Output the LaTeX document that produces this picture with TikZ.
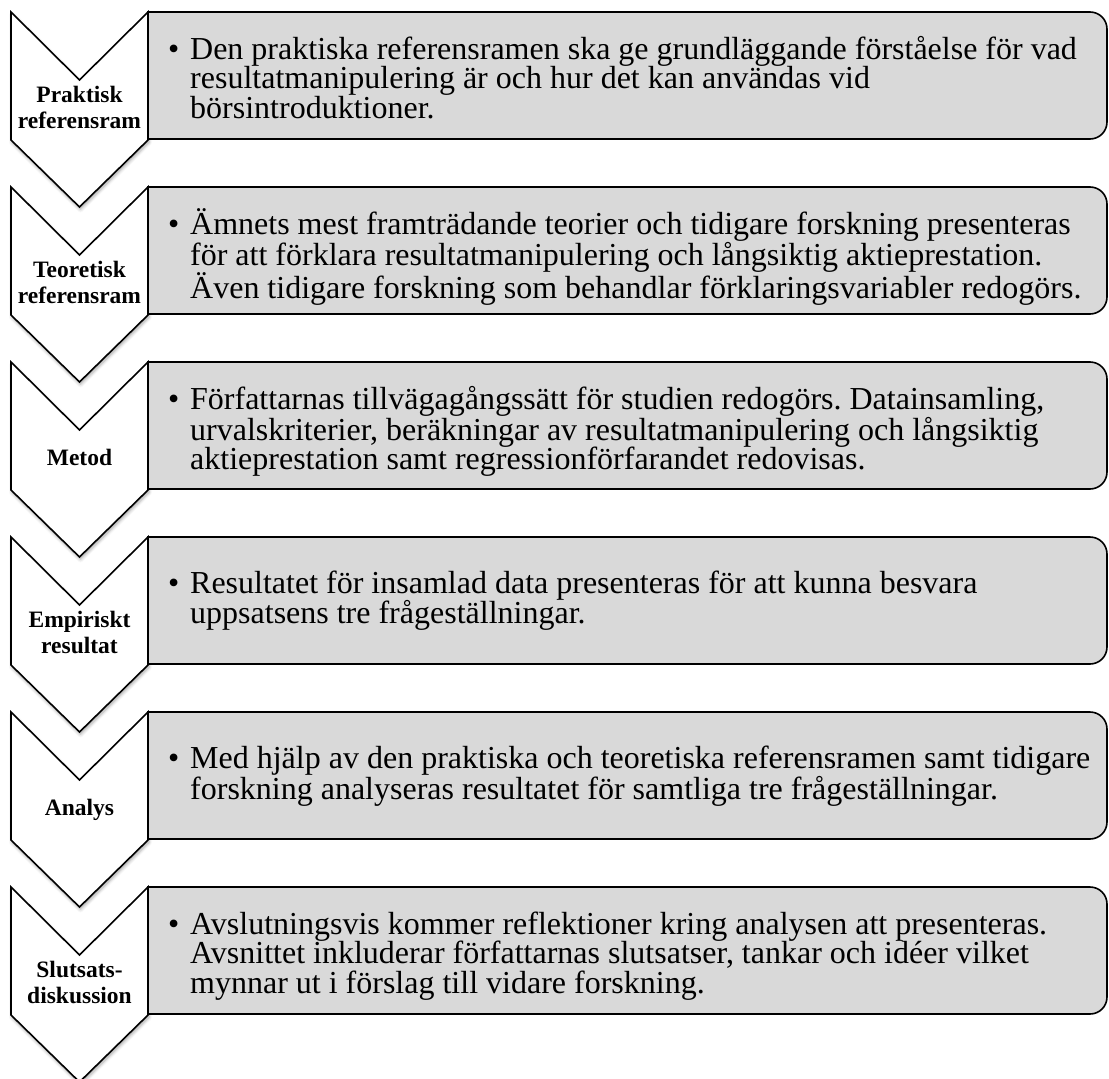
\documentclass[tikz,border=0pt]{standalone}
\usepackage{fontspec}
\setmainfont{Liberation Serif}
\usetikzlibrary{shadows.blur}
\definecolor{boxgray}{RGB}{217,217,217}
\frenchspacing
\tikzset{
  chev/.style={draw=black, line width=1.6pt, fill=white, line join=miter,
    blur shadow={shadow xshift=1pt, shadow yshift=-2.5pt, shadow blur radius=3pt, shadow opacity=35}},
  panel/.style={draw=black, line width=1.6pt, fill=boxgray},
  lbl/.style={anchor=base, inner sep=0pt},
  body/.style={anchor=base west, inner sep=0pt}
}
\newcommand{\lbltext}[1]{\parbox[t]{136pt}{\centering\bfseries\fontsize{23.5}{26}\selectfont #1}}
\newcommand{\bodytext}[1]{\parbox[t]{940pt}{\frenchspacing\fontsize{32}{29.5}\selectfont\hangindent=22pt\hangafter=1\noindent\makebox[22pt][l]{•}#1}}
\begin{document}
\begin{tikzpicture}[x=1pt,y=-1pt]
\useasboundingbox (0,0) rectangle (1109,1079);
\foreach \t in {12,187,362,537,712,887}{
  \path[chev] (11,\t) -- (79.5,\t+68) -- (148,\t) -- (148,\t+128) -- (79.5,\t+195) -- (11,\t+128) -- cycle;
  \path[panel] (148,\t) -- (1090,\t) .. controls (1099.4,\t) and (1107,\t+7.6) .. (1107,\t+17) -- (1107,\t+110) .. controls (1107,\t+119.4) and (1099.4,\t+127) .. (1090,\t+127) -- (148,\t+127) -- cycle;
}
% chevron labels
\node[lbl] (l1) at (79.5,102) {\lbltext{Praktisk\\referensram}};
\node[lbl] (l2) at (79.5,277) {\lbltext{Teoretisk\\referensram}};
\node[lbl] (l3) at (79.5,465) {\lbltext{Metod}};
\node[lbl] (l4) at (79.5,627) {\lbltext{Empiriskt\\resultat}};
\node[lbl] (l5) at (79.5,815) {\lbltext{Analys}};
\node[lbl] (l6) at (79.5,977) {\lbltext{Slutsats-\\diskussion}};
% body texts
\node[body] (b1) at (168,59) {\bodytext{Den praktiska referensramen ska ge grundläggande förståelse för vad\newline resultatmanipulering är och hur det kan användas vid\newline börsintroduktioner.}};
\node[body] (b2) at (168,234) {\bodytext{Ämnets mest framträdande teorier och tidigare forskning presenteras\newline för att förklara resultatmanipulering och långsiktig aktieprestation.\newline Även tidigare forskning som behandlar förklaringsvariabler redogörs.}};
\node[body] (b3) at (168,409) {\bodytext{Författarnas tillvägagångssätt för studien redogörs. Datainsamling,\newline urvalskriterier, beräkningar av resultatmanipulering och långsiktig\newline aktieprestation samt regressionförfarandet redovisas.}};
\node[body] (b4) at (168,593) {\bodytext{Resultatet för insamlad data presenteras för att kunna besvara\newline uppsatsens tre frågeställningar.}};
\node[body] (b5) at (168,768) {\bodytext{Med hjälp av den praktiska och teoretiska referensramen samt tidigare\newline forskning analyseras resultatet för samtliga tre frågeställningar.}};
\node[body] (b6) at (168,934) {\bodytext{Avslutningsvis kommer reflektioner kring analysen att presenteras.\newline Avsnittet inkluderar författarnas slutsatser, tankar och idéer vilket\newline mynnar ut i förslag till vidare forskning.}};
\end{tikzpicture}
\end{document}
